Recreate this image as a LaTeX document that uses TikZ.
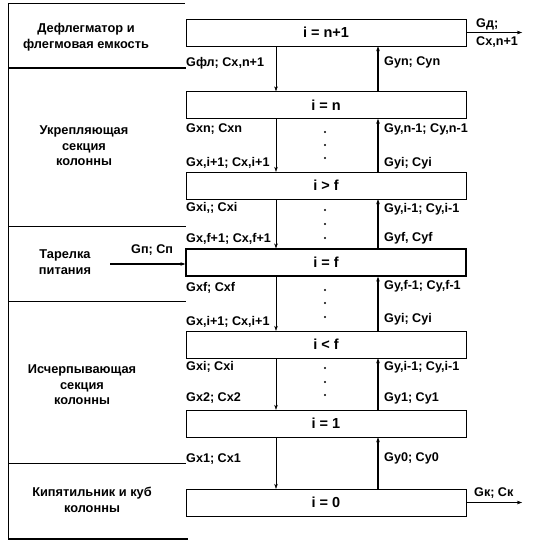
\documentclass[tikz,border=0pt]{standalone}
\usepackage{fontspec}
\setmainfont{Liberation Sans}
\usetikzlibrary{arrows.meta}
\begin{document}
\begin{tikzpicture}[x=1pt, y=-1pt, >={Stealth[length=5pt,width=3.5pt]},
  tray/.style={draw, minimum width=280pt, minimum height=27pt, inner sep=0pt, font=\fontsize{14.5}{16}\selectfont\bfseries},
  flow/.style={anchor=west, inner sep=0pt, font=\fontsize{12.6}{14}\selectfont\bfseries},
  sect/.style={align=center, inner sep=0pt, font=\fontsize{12.8}{15.5}\selectfont\bfseries}]
\useasboundingbox (0,0) rectangle (534,554);
% column sections
\draw (8,3) -- (8,540);
\draw (8,3) -- (185,3);
\draw[line width=1.2pt] (8,68) -- (186,68);
\draw (8,226) -- (186,226);
\draw (8,301) -- (186,301);
\draw (8,463) -- (186,463);
\draw[line width=1.2pt] (8,539) -- (188,539);
\node[sect] (cond) at (86,37) {Дефлегматор и\\флегмовая емкость};
\node[sect] (rect) at (84,146) {Укрепляющая\\секция\\колонны};
\node[sect] (feedl) at (65,262) {Тарелка\\питания};
\node[sect] (strip) at (82,385) {Исчерпывающая\\секция\\колонны};
\node[sect] (reb) at (92,500) {Кипятильник и куб\\колонны};
% trays
\node[tray] (tn1) at (326,32.5) {i = n+1};
\node[tray] (tn) at (326,105) {i = n};
\node[tray] (tup) at (326,185.5) {i > f};
\node[tray, line width=1.2pt] (tf) at (326,262.5) {i = f};
\node[tray] (tlow) at (326,344.5) {i < f};
\node[tray] (t1) at (326,423.5) {i = 1};
\node[tray] (t0) at (326,502.5) {i = 0};
\coordinate (dn) at (276,0);
\coordinate (up) at (378,0);
\coordinate (out) at (522,0);
\foreach \a/\b in {tn1/tn, tn/tup, tup/tf, tf/tlow, tlow/t1, t1/t0} {
  \draw[->] (\a.south -| dn) -- (\b.north -| dn);
  \draw[->, line width=1.1pt] (\b.north -| up) -- (\a.south -| up);
}
\foreach \y in {132,145,158, 210,224,238, 290,303,317, 368,382,395}
  \fill (325,\y) circle (1.1pt);
% liquid and vapour
\foreach \t/\y [count=\k] in {{Gфл; Cx,n+1}/63, {Gxn; Cxn}/129, {Gx,i+1; Cx,i+1}/163, {Gxi,; Cxi}/208,
  {Gx,f+1; Cx,f+1}/239, {Gxf; Cxf}/288, {Gx,i+1; Cx,i+1}/322, {Gxi; Cxi}/367, {Gx2; Cx2}/398, {Gx1; Cx1}/459}
  \node[flow] (lx\k) at (186,\y) {\t};
\foreach \t/\y [count=\k] in {{Gyn; Cyn}/62, {Gy,n-1; Cy,n-1}/129, {Gyi; Cyi}/163, {Gy,i-1; Cy,i-1}/209,
  {Gyf, Cyf}/238, {Gy,f-1; Cy,f-1}/286, {Gyi; Cyi}/319, {Gy,i-1; Cy,i-1}/367, {Gy1; Cy1}/398, {Gy0; Cy0}/458}
  \node[flow] (ly\k) at (384,\y) {\t};
% feed, distillate, bottoms
\coordinate (feed) at (110,264);
\draw[->, line width=1.1pt] (feed) -- (feed -| tf.west);
\node[flow] (gf) at (131,250) {Gп; Cп};
\draw[->] (tn1.east) -- (tn1.east -| out);
\node[flow] (gd) at (476,24) {Gд;};
\node[flow] (cd) at (476,42) {Cx,n+1};
\draw[->] (t0.east) -- (t0.east -| out);
\node[flow] (gk) at (474,493) {Gк; Cк};
\end{tikzpicture}
\end{document}
